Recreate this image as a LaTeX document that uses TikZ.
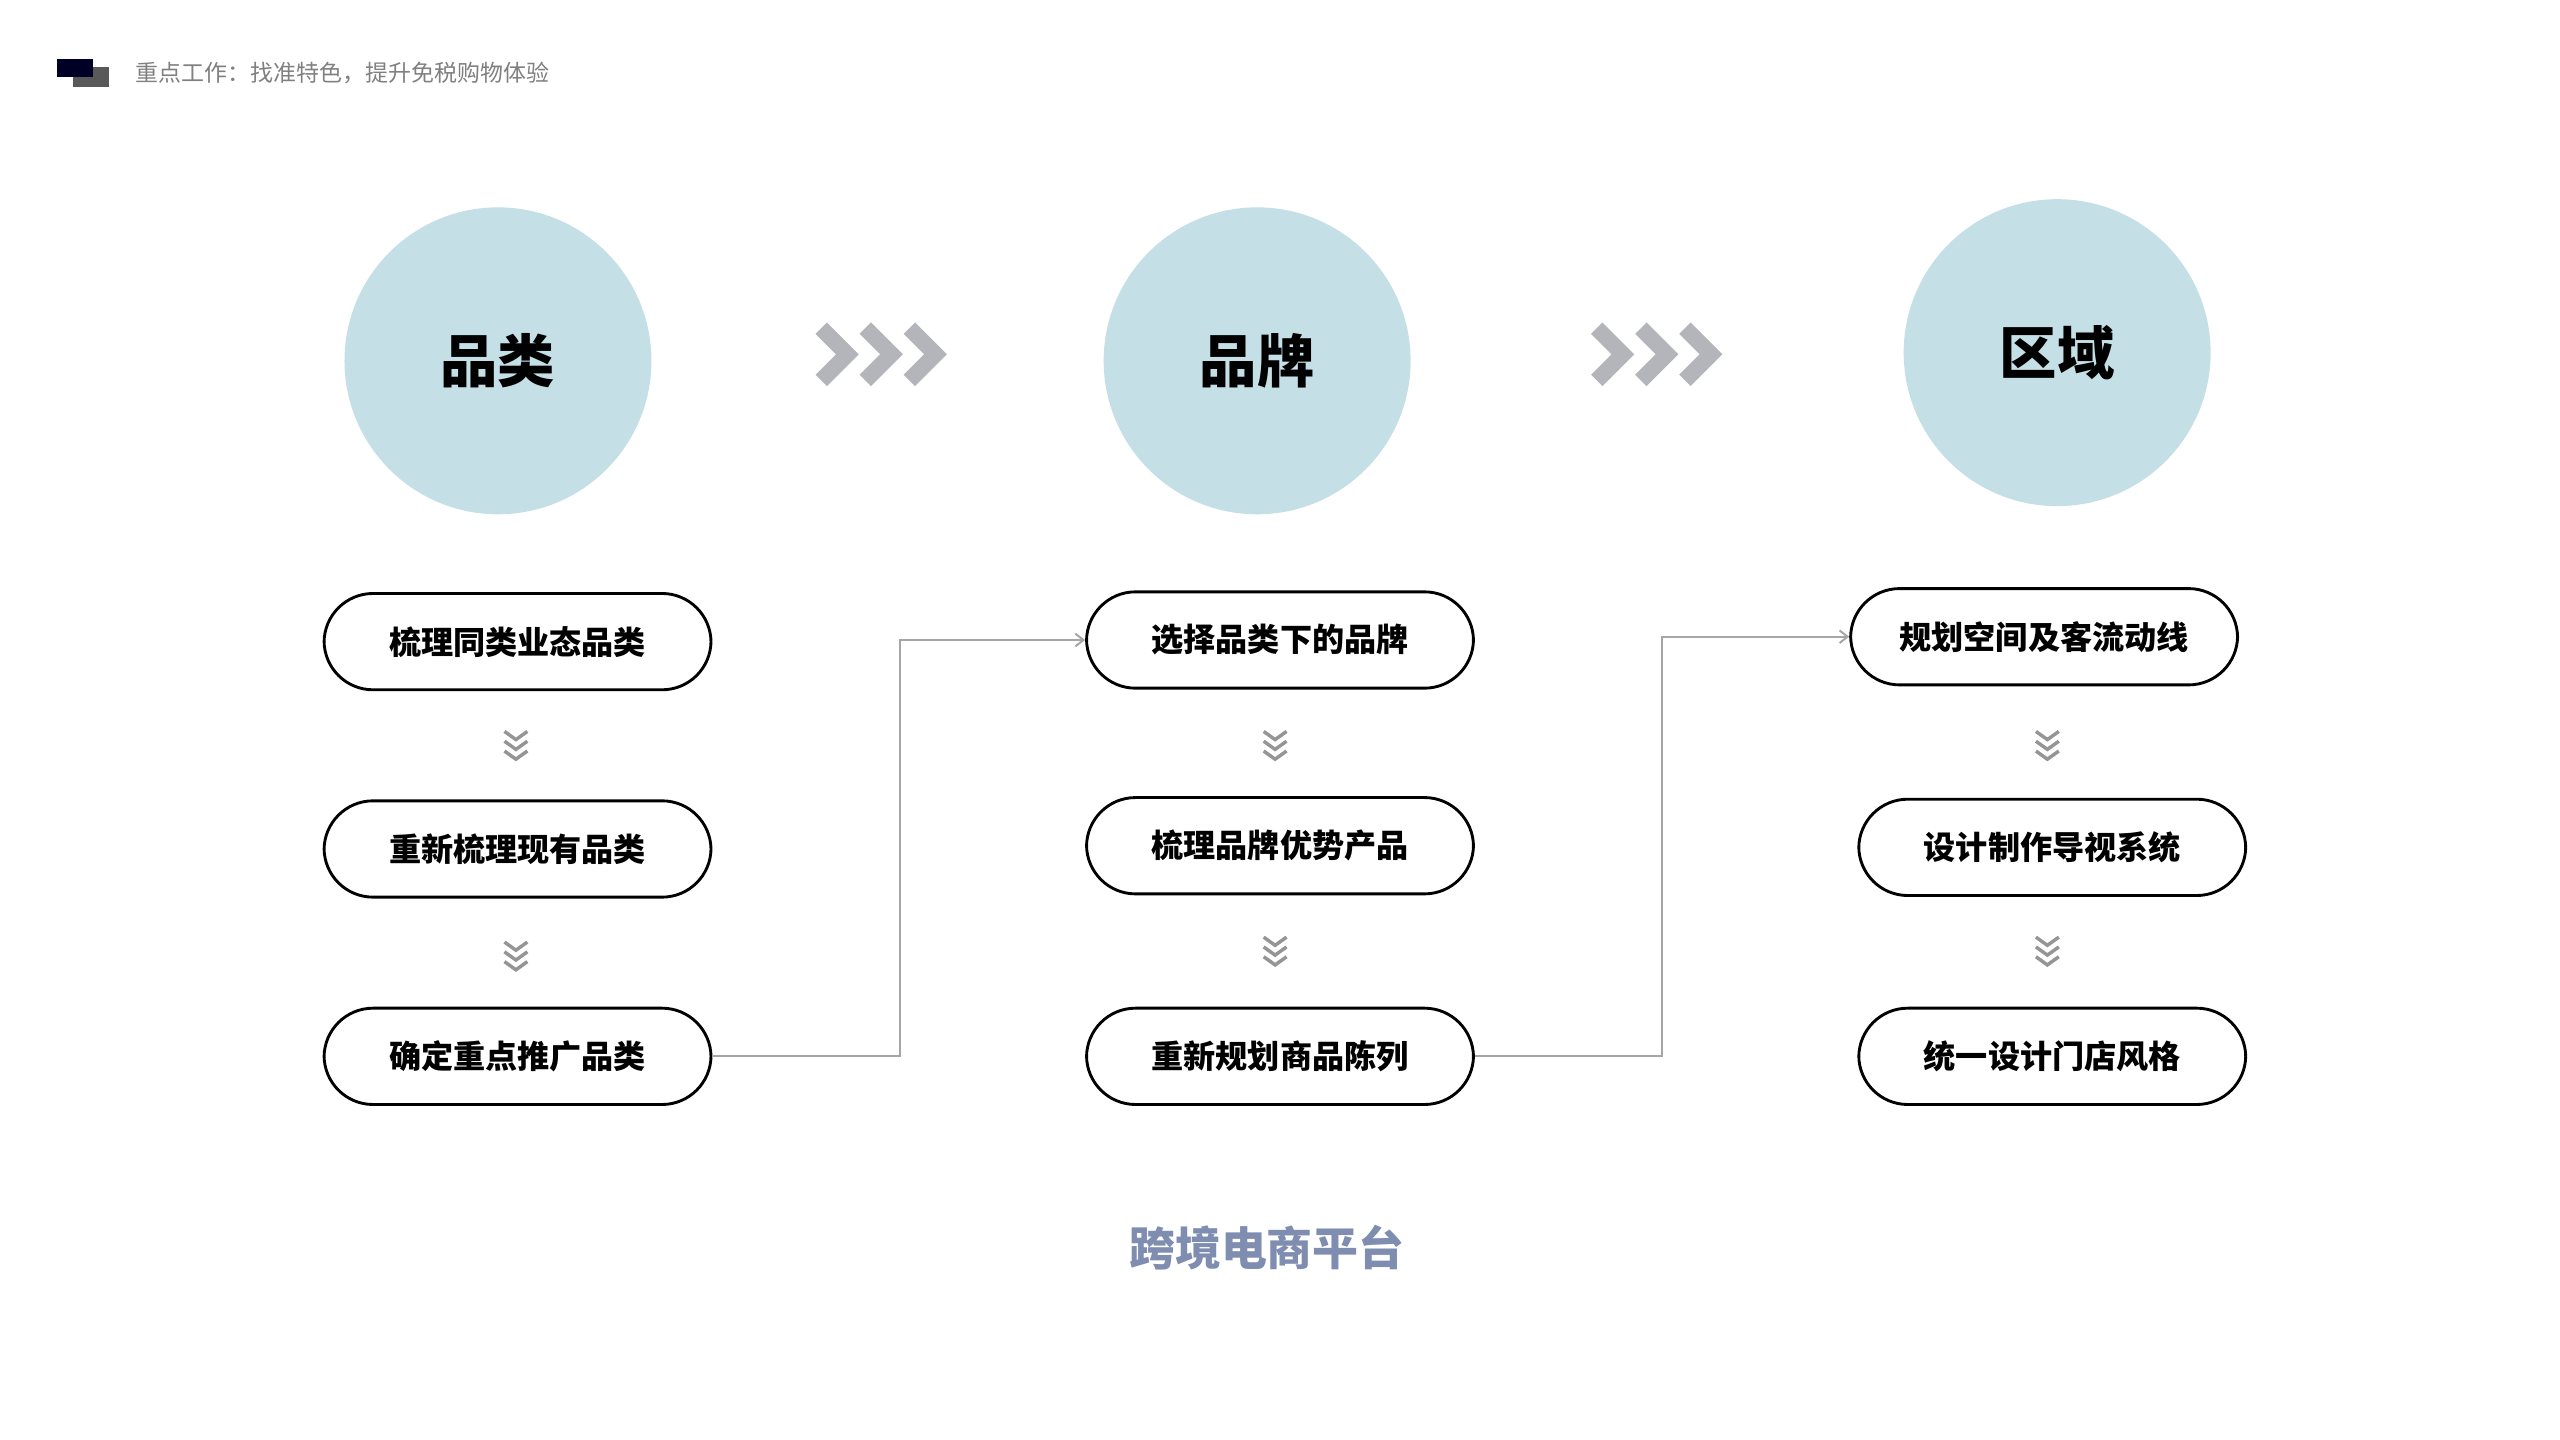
\documentclass[tikz,border=0pt]{standalone}
\usepackage{fontspec}
\setmainfont{Noto Sans CJK SC}
\usetikzlibrary{arrows.meta}
\definecolor{cblue}{HTML}{C5DFE6}
\definecolor{chev}{HTML}{B3B5BA}
\definecolor{conn}{HTML}{A6A6A6}
\definecolor{bottomc}{HTML}{7F8DB0}
\tikzset{
 circ/.style={circle,fill=cblue,minimum size=188mm,inner sep=0,font=\fontsize{100}{110}\selectfont\bfseries},
 pill/.style={draw=black,line width=5pt,rounded corners=30mm,minimum width=237mm,minimum height=59mm,font=\fontsize{56}{60}\selectfont\bfseries,inner sep=0},
 bigchev/.style={chev,line width=28pt,miter limit=10},
 smallchev/.style={conn!90!black,line width=6pt},
 connector/.style={conn,line width=3.5pt,-{Straight Barb[length=14pt,width=22pt,line width=3.5pt]}}
}
\begin{document}
\begin{tikzpicture}[x=1mm,y=-1mm]
\useasboundingbox (0,0) rectangle (1568,882);
\fill[white] (0,0) rectangle (1568,882);
% header
\fill[black!30!gray] (45,41) rectangle (67,53);
\fill[black!85!blue] (35,36) rectangle (57,47);
\node[anchor=west,text=gray,font=\fontsize{40}{44}\selectfont] (hdr) at (82,45) {重点工作：找准特色，提升免税购物体验};
% circles
\node[circ] (c1) at (305,221) {品类};
\node[circ] (c2) at (770,221) {品牌};
\node[circ] (c3) at (1260,216) {区域};
% big chevrons
\foreach \x in {503,530,557}{\draw[bigchev] (\x,201)--(\x+16,217)--(\x,233);}
\foreach \x in {978,1005,1032}{\draw[bigchev] (\x,201)--(\x+16,217)--(\x,233);}
% pills
\node[pill] (a1) at (317,393) {梳理同类业态品类};
\node[pill] (a2) at (317,520) {重新梳理现有品类};
\node[pill] (a3) at (317,647) {确定重点推广品类};
\node[pill] (b1) at (784,392) {选择品类下的品牌};
\node[pill] (b2) at (784,518) {梳理品牌优势产品};
\node[pill] (b3) at (784,647) {重新规划商品陈列};
\node[pill] (d1) at (1252,390) {规划空间及客流动线};
\node[pill] (d2) at (1257,519) {设计制作导视系统};
\node[pill] (d3) at (1257,647) {统一设计门店风格};
% small chevrons
\foreach \x/\y in {316/457,316/586,781/457,781/583,1254/457,1254/583}{
 \draw[smallchev] (\x-7,\y-9)--(\x,\y-4)--(\x+7,\y-9);
 \draw[smallchev] (\x-7,\y-3)--(\x,\y+2)--(\x+7,\y-3);
 \draw[smallchev] (\x-7,\y+3)--(\x,\y+8)--(\x+7,\y+3);
}
% connectors
\draw[connector] (a3.east) -- (551,647) |- (b1.west);
\draw[connector] (b3.east) -- (1018,647) |- (d1.west);
% bottom
\node[text=bottomc,font=\fontsize{80}{88}\selectfont\bfseries] (bt) at (776,764) {跨境电商平台};
\end{tikzpicture}
\end{document}
